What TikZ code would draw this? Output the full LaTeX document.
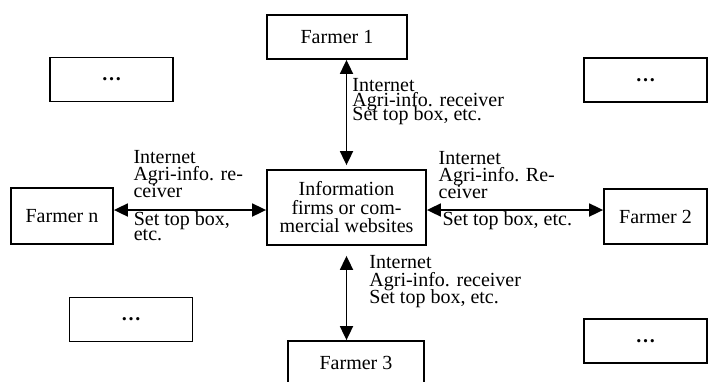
\documentclass[tikz,border=0pt]{standalone}
\usepackage{fontspec}
\setmainfont{Liberation Serif}
\usetikzlibrary{arrows.meta}
\newcommand\tightleading{\lineskiplimit=-100pt\relax}

\begin{document}
\begin{tikzpicture}[x=1pt,y=-1pt,>={Triangle[length=14pt,width=13pt]},
	line width=1.8pt,
	main node/.style={draw,rectangle,inner sep=0pt,align=center,
		font=\fontsize{20}{18.5}\selectfont},
	dots node/.style={main node,minimum width=123pt,minimum height=44pt,
		font=\bfseries\fontsize{20}{20}\selectfont},
	lbl text/.style={inner sep=0pt,align=left,
		font=\fontsize{20}{#1}\selectfont\tightleading},
	lbl text/.default=17]
	
	\clip (0,0) rectangle (708,381);
	
	\node[main node,minimum width=159pt,minimum height=75pt] (info) at (346.5,207.5)
		{Information\\firms or com-\\mercial websites};
	\node[main node,minimum width=140pt,minimum height=44pt] (f1) at (337,37) {Farmer 1};
	\node[main node,minimum width=103pt,minimum height=55pt] (f2) at (655.5,216.5) {Farmer 2};
	\node[main node,minimum width=136pt,minimum height=44pt] (f3) at (356,363) {Farmer 3};
	\node[main node,minimum width=102pt,minimum height=56pt] (fn) at (62,216) {Farmer n};
	
	\node[dots node] (d1) at (111.5,79.5) {…};
	\node[dots node] (d2) at (645.5,80) {…};
	\node[dots node] (d3) at (131,319.5) {…};
	\node[dots node] (d4) at (645.5,341) {…};
	
	\coordinate (lm) at ([yshift=-2.5pt]info.west);
	\coordinate (rm) at ([yshift=-2.5pt]info.east);
	
	\draw[<->] (f1.south -| info.north) --
		node[lbl text=14.5,anchor=west,pos=0.4,xshift=5pt]
		{Internet\\Agri-info. receiver\\Set top box, etc.} ([yshift=4pt]info.north);
	\draw[<->] ([yshift=-10pt]info.south) --
		node[lbl text=17.5,anchor=west,pos=0.31,xshift=22pt]
		{Internet\\Agri-info. receiver\\Set top box, etc.} (info.south |- f3.north);
	\draw[<->] (fn.east |- lm) --
		node[lbl text,anchor=south west,pos=0.123,yshift=11pt]
		{Internet\\Agri-info. re-\\ceiver}
		node[lbl text=15,anchor=north west,pos=0.125,yshift=-1pt]
		{Set top box,\\etc.} (lm);
	\draw[<->] (rm) --
		node[lbl text,anchor=south west,pos=0.062,yshift=10pt]
		{Internet\\Agri-info. Re-\\ceiver}
		node[lbl text,anchor=north west,pos=0.084,yshift=-1pt]
		{Set top box, etc.} (f2.west |- rm);
\end{tikzpicture}
\end{document}
